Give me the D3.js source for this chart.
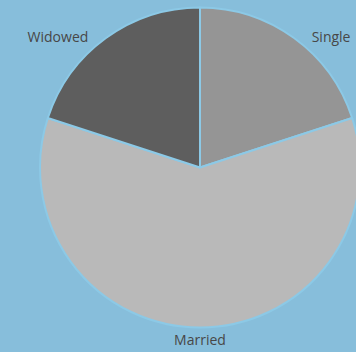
<!DOCTYPE html>
<html>
<head>
<meta charset="utf-8">
<script src="https://cdn.jsdelivr.net/npm/d3@7"></script>
<style>
  html, body { margin: 0; padding: 0; background: #87bedb; }
  svg { display: block; }
</style>
</head>
<body>
<svg id="chart" width="356" height="352"></svg>
<script>
// Marital status shares (percent)
const categories = ["Single", "Married", "Widowed"];
const values = [20, 60, 20];
const colors = ["#959595", "#b9b9b9", "#5e5e5e"];

const width = 356, height = 352;
const cx = 200, cy = 167.5, radius = 160;

const svg = d3.select("#chart");
const g = svg.append("g").attr("transform", `translate(${cx},${cy})`);

const data = categories.map((c, i) => ({ category: c, value: values[i], color: colors[i] }));

const pie = d3.pie().value(d => d.value).sort(null);
const arc = d3.arc().innerRadius(0).outerRadius(radius);
const arcs = pie(data);

g.selectAll("path.slice")
  .data(arcs)
  .join("path")
  .attr("class", "slice")
  .attr("d", arc)
  .attr("fill", d => d.data.color)
  .attr("stroke", "#8cc9e6")
  .attr("stroke-width", 2)
  .attr("stroke-linejoin", "round");

// Labels sit just outside the rim, kept within the drawing area
const labelR = 172;
g.selectAll("text.label")
  .data(arcs)
  .join("text")
  .attr("class", "label")
  .each(function(d) {
    const a = (d.startAngle + d.endAngle) / 2;
    const s = Math.sin(a), c = Math.cos(a);
    let x = 190 * s;
    let y = -labelR * c;
    y = Math.max(36 - cy, Math.min(340 - cy, y));
    const anchor = s > 0.1 ? "start" : (s < -0.1 ? "end" : "middle");
    d3.select(this)
      .attr("x", x)
      .attr("y", y)
      .attr("text-anchor", anchor)
      .attr("dominant-baseline", "central");
  })
  .attr("font-family", "'Open Sans', sans-serif")
  .attr("font-size", 14)
  .attr("fill", "#474747")
  .text(d => d.data.category);
</script>
</body>
</html>
